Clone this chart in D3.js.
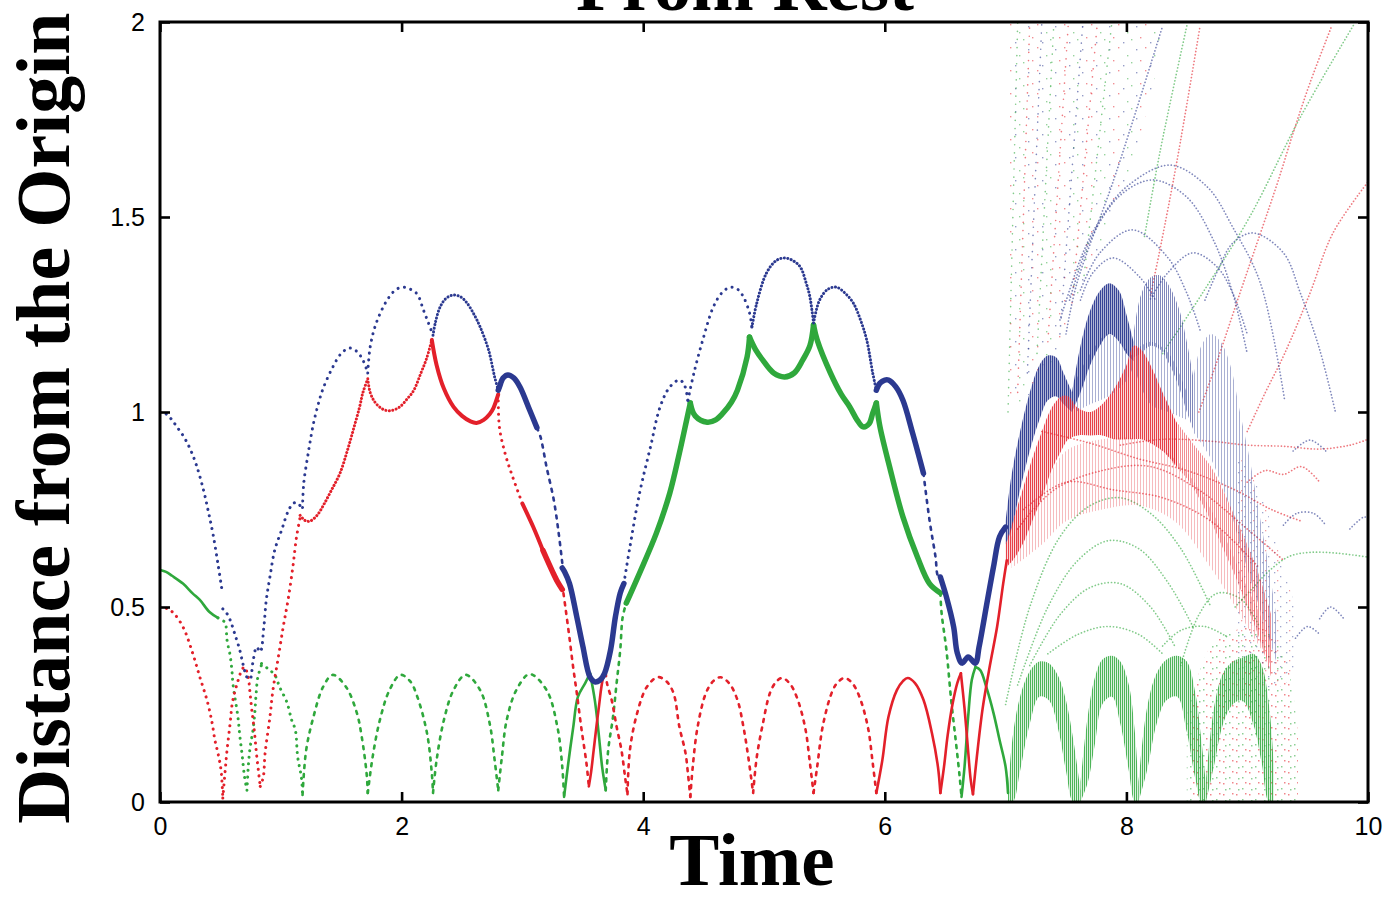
<!DOCTYPE html>
<html>
<head>
<meta charset="utf-8">
<script src="https://cdn.jsdelivr.net/npm/d3@7"></script>
<style>
  html, body { margin: 0; padding: 0; background: #fff; }
  svg { display: block; }
</style>
</head>
<body>
<svg id="chart" width="1386" height="898"></svg>
<script>
// ---------- axis ticks ----------
const xTicks = [0, 2, 4, 6, 8, 10];
const yTicks = [0, 0.5, 1, 1.5, 2];

// ---------- body tracks: [time, distance] ----------
const blueTrack = [
  [[0,1.0],[0.04,0.997],[0.09,0.983],[0.14,0.962],[0.2,0.935],[0.25,0.905],[0.3,0.865],[0.36,0.80],[0.4,0.745],[0.44,0.685],[0.48,0.61],[0.51,0.55]],
  [[0.52,0.495],[0.55,0.485],[0.58,0.467],[0.62,0.43],[0.66,0.39],[0.69,0.35],[0.72,0.32],[0.745,0.315],[0.77,0.36],[0.8,0.397],[0.83,0.385],[0.86,0.45],[0.88,0.518],[0.91,0.577],[0.95,0.646],[1.01,0.70],[1.06,0.745],[1.1,0.765],[1.13,0.768],[1.16,0.76],[1.18,0.755]],
  [[1.18,0.755],[1.19,0.817],[1.23,0.90],[1.27,0.97],[1.31,1.02],[1.35,1.06],[1.43,1.115],[1.5,1.15],[1.57,1.164],[1.63,1.155],[1.68,1.133],[1.72,1.10]],
  [[1.72,1.10],[1.74,1.167],[1.79,1.228],[1.88,1.287],[1.95,1.313],[2.01,1.32],[2.07,1.315],[2.13,1.302],[2.18,1.262],[2.22,1.23],[2.26,1.197]],
  [[2.26,1.197],[2.28,1.23],[2.32,1.27],[2.37,1.292],[2.43,1.30],[2.49,1.295],[2.54,1.28],[2.6,1.25],[2.65,1.218],[2.72,1.159],[2.77,1.09],[2.80,1.056]],
  [[2.80,1.056],[2.81,1.064],[2.84,1.087],[2.88,1.095],[2.93,1.087],[2.98,1.064],[3.06,1.005],[3.12,0.96]],
  [[3.12,0.96],[3.15,0.936],[3.2,0.859],[3.26,0.774],[3.3,0.69],[3.33,0.613]],
  [[3.33,0.60],[3.35,0.59],[3.39,0.56],[3.45,0.475],[3.5,0.40],[3.56,0.32],[3.6,0.308],[3.64,0.312],[3.68,0.33],[3.73,0.39],[3.77,0.475],[3.81,0.536],[3.84,0.56]],
  [[3.84,0.56],[3.89,0.654],[3.97,0.792],[4.06,0.91],[4.14,1.013],[4.22,1.064],[4.3,1.082],[4.34,1.07],[4.37,1.03]],
  [[4.37,1.03],[4.42,1.10],[4.5,1.192],[4.58,1.269],[4.65,1.305],[4.72,1.32],[4.78,1.315],[4.83,1.295],[4.88,1.254],[4.90,1.218]],
  [[4.90,1.218],[4.94,1.279],[5.02,1.356],[5.1,1.388],[5.17,1.395],[5.24,1.388],[5.3,1.372],[5.35,1.33],[5.38,1.295],[5.41,1.228]],
  [[5.41,1.228],[5.46,1.287],[5.53,1.315],[5.6,1.32],[5.67,1.305],[5.74,1.279],[5.8,1.235],[5.85,1.185],[5.9,1.10],[5.93,1.056]],
  [[5.93,1.056],[5.96,1.074],[6.0,1.082],[6.03,1.082],[6.09,1.065],[6.15,1.03],[6.23,0.946],[6.32,0.843]],
  [[6.32,0.843],[6.37,0.723],[6.42,0.628],[6.44,0.58],[6.46,0.577]],
  [[6.46,0.577],[6.51,0.526],[6.57,0.449],[6.6,0.382],[6.64,0.356],[6.69,0.372],[6.75,0.356],[6.78,0.397],[6.85,0.518],[6.9,0.603],[6.95,0.68],[7.0,0.705]]
];
const blueLook = ['dot','dot','dot','dot','fine','thick','dash','thick','dot','dot','fine','fine','thick','dash','thick'];

const redTrack = [
  [[0,0.5],[0.05,0.497],[0.11,0.485],[0.19,0.449],[0.27,0.382],[0.33,0.32],[0.39,0.26],[0.43,0.205],[0.455,0.158],[0.48,0.125],[0.505,0.082],[0.52,0.01]],
  [[0.52,0.01],[0.54,0.082],[0.555,0.133],[0.58,0.2],[0.6,0.256],[0.64,0.305],[0.68,0.34],[0.70,0.346],[0.73,0.32],[0.745,0.28],[0.76,0.236],[0.78,0.185],[0.80,0.12],[0.83,0.04]],
  [[0.83,0.04],[0.855,0.064],[0.87,0.125],[0.91,0.218],[0.935,0.287],[0.98,0.372],[1.02,0.449],[1.06,0.518],[1.10,0.603],[1.13,0.679],[1.16,0.73]],
  [[1.16,0.735],[1.2,0.722],[1.24,0.72],[1.3,0.735],[1.36,0.765],[1.42,0.80],[1.49,0.843],[1.55,0.90],[1.6,0.954],[1.65,1.01],[1.68,1.05],[1.72,1.085]],
  [[1.72,1.085],[1.74,1.05],[1.78,1.025],[1.84,1.008],[1.9,1.003],[1.98,1.012],[2.05,1.035],[2.1,1.055],[2.16,1.1],[2.21,1.14],[2.25,1.185]],
  [[2.25,1.185],[2.29,1.12],[2.35,1.06],[2.43,1.013],[2.5,0.99],[2.57,0.976],[2.62,0.972],[2.68,0.98],[2.73,0.995],[2.76,1.01],[2.80,1.045]],
  [[2.80,1.045],[2.81,0.96],[2.86,0.89],[2.92,0.833],[3.0,0.765]],
  [[3.0,0.765],[3.09,0.705],[3.17,0.645]],
  [[3.17,0.645],[3.25,0.59],[3.29,0.565],[3.33,0.545]],
  [[3.34,0.535],[3.36,0.49],[3.39,0.42],[3.42,0.346],[3.45,0.28],[3.49,0.185],[3.53,0.10],[3.55,0.04]],
  [[3.55,0.04],[3.57,0.08],[3.59,0.133],[3.63,0.236],[3.67,0.32],[3.69,0.33]],
  [[3.69,0.33],[3.70,0.305],[3.74,0.26],[3.78,0.193],[3.82,0.133],[3.85,0.064],[3.87,0.02]],
  [[3.87,0.02],[3.89,0.133],[3.95,0.228],[4.03,0.295],[4.12,0.32],[4.19,0.31],[4.25,0.28],[4.30,0.192],[4.35,0.126],[4.37,0.074],[4.39,0.013]],
  [[4.39,0.013],[4.41,0.09],[4.45,0.192],[4.52,0.28],[4.58,0.31],[4.64,0.32],[4.71,0.305],[4.78,0.262],[4.83,0.192],[4.87,0.115],[4.91,0.023]],
  [[4.91,0.023],[4.94,0.115],[4.99,0.2],[5.05,0.28],[5.1,0.308],[5.15,0.318],[5.21,0.305],[5.27,0.27],[5.34,0.192],[5.38,0.1],[5.41,0.023]],
  [[5.41,0.023],[5.44,0.09],[5.49,0.2],[5.57,0.287],[5.62,0.31],[5.67,0.318],[5.73,0.305],[5.79,0.27],[5.86,0.192],[5.9,0.1],[5.93,0.023]],
  [[5.93,0.023],[5.98,0.108],[6.03,0.218],[6.1,0.287],[6.15,0.31],[6.19,0.318],[6.25,0.305],[6.32,0.262],[6.39,0.177],[6.44,0.09],[6.46,0.023]],
  [[6.46,0.023],[6.49,0.09],[6.52,0.17],[6.56,0.25],[6.6,0.305],[6.63,0.33]],
  [[6.63,0.33],[6.66,0.24],[6.69,0.13],[6.71,0.06],[6.73,0.02]],
  [[6.73,0.02],[6.76,0.11],[6.81,0.24],[6.87,0.35],[6.93,0.45],[6.98,0.56],[7.01,0.62]]
];
const redLook = ['dot','dot','dot','fine','fine','bold','dot','bold','thick','dash','line','dash','dash','dash','dash','dash','line','line','line','line'];

const greenTrack = [
  [[0,0.595],[0.05,0.59],[0.1,0.58],[0.19,0.56],[0.27,0.535],[0.33,0.518],[0.41,0.487],[0.48,0.472]],
  [[0.48,0.472],[0.52,0.465],[0.54,0.46],[0.555,0.415],[0.58,0.377],[0.595,0.338],[0.605,0.3],[0.645,0.218],[0.66,0.172],[0.68,0.12],[0.70,0.064],[0.72,0.03]],
  [[0.72,0.03],[0.73,0.087],[0.745,0.138],[0.77,0.185],[0.785,0.23],[0.795,0.274],[0.81,0.32],[0.84,0.351]],
  [[0.84,0.355],[0.9,0.34],[0.95,0.326],[0.99,0.295],[1.05,0.256],[1.09,0.21],[1.12,0.185],[1.14,0.115],[1.17,0.064],[1.18,0.018]],
  [[1.18,0.018],[1.21,0.133],[1.27,0.218],[1.35,0.295],[1.43,0.326],[1.54,0.295],[1.63,0.228],[1.67,0.167],[1.71,0.074],[1.72,0.023]],
  [[1.72,0.023],[1.76,0.115],[1.82,0.21],[1.9,0.287],[1.99,0.326],[2.07,0.31],[2.13,0.27],[2.21,0.177],[2.25,0.074],[2.26,0.023]],
  [[2.26,0.023],[2.29,0.108],[2.35,0.21],[2.43,0.287],[2.53,0.326],[2.65,0.287],[2.73,0.2],[2.77,0.108],[2.80,0.03]],
  [[2.80,0.03],[2.83,0.115],[2.87,0.21],[2.95,0.287],[3.06,0.328],[3.2,0.287],[3.29,0.192],[3.33,0.09],[3.345,0.013]],
  [[3.345,0.013],[3.38,0.1],[3.42,0.19],[3.46,0.27],[3.52,0.305],[3.56,0.33]],
  [[3.56,0.33],[3.6,0.26],[3.63,0.18],[3.66,0.09],[3.69,0.03]],
  [[3.69,0.03],[3.71,0.133],[3.75,0.218],[3.78,0.305],[3.81,0.39],[3.83,0.474],[3.86,0.51]],
  [[3.86,0.51],[3.97,0.587],[4.11,0.69],[4.22,0.792],[4.3,0.895],[4.36,0.98],[4.39,1.023]],
  [[4.39,1.023],[4.43,0.99],[4.53,0.974],[4.6,0.98],[4.66,0.997],[4.73,1.025],[4.78,1.056],[4.86,1.141],[4.88,1.192]],
  [[4.88,1.192],[4.93,1.16],[4.99,1.133],[5.08,1.10],[5.17,1.09],[5.25,1.10],[5.32,1.133],[5.38,1.17],[5.41,1.223]],
  [[5.41,1.223],[5.44,1.185],[5.55,1.10],[5.64,1.045],[5.71,1.013],[5.77,0.98],[5.82,0.962],[5.87,0.97],[5.9,0.997],[5.93,1.023]],
  [[5.93,1.023],[5.96,0.962],[6.04,0.859],[6.15,0.731],[6.27,0.628],[6.37,0.56],[6.46,0.536]],
  [[6.46,0.536],[6.47,0.485],[6.51,0.39],[6.55,0.26],[6.59,0.15],[6.62,0.064],[6.635,0.013]],
  [[6.635,0.013],[6.66,0.09],[6.69,0.218],[6.72,0.313],[6.75,0.346]],
  [[6.75,0.346],[6.79,0.338],[6.84,0.295],[6.9,0.228],[6.95,0.159],[7.0,0.09],[7.02,0.023]]
];
const greenLook = ['line','dot','dot','dot','dash','dash','dash','dash','line','line','dash','thick','thick','thick','thick','thick','dash','line','line'];

// ---------- late, spread-out bundles: [time, low, high] ----------
const greenDomes = [
  [[7.02,0,0.03],[7.06,0,0.17],[7.12,0.08,0.27],[7.2,0.2,0.335],[7.28,0.27,0.36],[7.36,0.26,0.355],[7.44,0.18,0.32],[7.5,0.08,0.26],[7.56,0,0.16],[7.62,0,0.03]],
  [[7.62,0,0.05],[7.68,0.05,0.22],[7.74,0.15,0.32],[7.8,0.25,0.365],[7.88,0.27,0.375],[7.95,0.2,0.36],[8.02,0.08,0.3],[8.07,0,0.18],[8.1,0,0.04]],
  [[8.1,0,0.05],[8.17,0.08,0.24],[8.25,0.2,0.33],[8.33,0.26,0.365],[8.42,0.27,0.375],[8.5,0.18,0.36],[8.57,0.06,0.28],[8.62,0,0.16],[8.66,0,0.04]],
  [[8.66,0,0.06],[8.73,0.1,0.25],[8.8,0.2,0.33],[8.88,0.25,0.36],[8.96,0.26,0.37],[9.05,0.2,0.38],[9.12,0.1,0.35],[9.18,0,0.25],[9.22,0,0.1]]
];
const blueDomes = [
  [[7.0,0.66,0.72],[7.05,0.70,0.84],[7.12,0.80,0.95],[7.2,0.90,1.05],[7.28,0.98,1.12],[7.35,1.03,1.145],[7.42,1.04,1.14],[7.48,1.02,1.10],[7.55,1.0,1.05]],
  [[7.55,1.0,1.05],[7.62,1.05,1.17],[7.7,1.12,1.26],[7.78,1.17,1.31],[7.86,1.2,1.33],[7.94,1.18,1.31],[8.0,1.15,1.25],[8.06,1.13,1.18]],
  [[8.06,1.14,1.2],[8.12,1.15,1.3],[8.2,1.17,1.345],[8.28,1.16,1.35],[8.36,1.12,1.32],[8.44,1.06,1.26],[8.5,1.0,1.18],[8.56,0.95,1.08]],
  [[8.55,0.95,1.08],[8.62,0.92,1.17],[8.7,0.88,1.2],[8.78,0.82,1.18],[8.86,0.75,1.12],[8.94,0.66,1.0],[9.02,0.58,0.88],[9.1,0.5,0.74],[9.18,0.42,0.6],[9.24,0.36,0.48]]
];
const blueDomesFaint = [
  [[7.58,1.0,1.08],[7.7,1.02,1.15],[7.85,1.04,1.2],[8.0,1.08,1.16],[8.06,1.12,1.14]],
  [[8.08,1.1,1.16],[8.2,1.02,1.18],[8.35,1.0,1.15],[8.5,0.98,1.05]]
];
const redCore = [
  [[7.0,0.60,0.66],[7.06,0.62,0.72],[7.14,0.66,0.80],[7.22,0.72,0.88],[7.3,0.78,0.95],[7.38,0.85,1.01],[7.46,0.9,1.04],[7.52,0.93,1.04],[7.6,0.94,1.01],[7.7,0.94,1.0],[7.8,0.94,1.02],[7.9,0.93,1.06],[8.0,0.93,1.12],[8.06,0.93,1.17],[8.12,0.93,1.16],[8.2,0.92,1.12],[8.3,0.9,1.05],[8.42,0.86,0.97]]
];
const redTail = [
  [[8.38,0.87,0.99],[8.5,0.83,0.94],[8.6,0.78,0.9],[8.7,0.72,0.86],[8.8,0.65,0.8],[8.9,0.58,0.73],[9.0,0.5,0.66],[9.1,0.42,0.58],[9.2,0.32,0.48]]
];
const redFan = [
  [[7.05,0.6,0.68],[7.3,0.66,0.8],[7.5,0.72,0.9],[7.8,0.75,0.93],[8.1,0.76,0.93],[8.4,0.72,0.88],[8.7,0.6,0.75],[9.0,0.45,0.55],[9.2,0.35,0.42]]
];

// ---------- scattered debris regions: [time, low, high] ----------
const debrisHigh = [[7.02,1.0,2.0],[7.3,1.08,2.0],[7.6,1.3,2.0],[7.9,1.5,2.0],[8.15,1.75,2.0],[8.3,1.95,2.0]];
const debrisLow = [[8.5,0,0.22],[8.7,0,0.4],[8.9,0,0.44],[9.1,0,0.45],[9.3,0,0.38],[9.42,0,0.18]];
const debrisBlue = [[8.9,0.4,0.9],[9.1,0.3,0.8],[9.3,0.3,0.6],[9.4,0.35,0.5]];

// ---------- single escaping / looping paths ----------
const blueStrays = [
  [[7.45,1.236],[7.64,1.408],[7.78,1.492],[8.0,1.577],[8.36,1.633],[8.67,1.577],[8.88,1.474],[9.11,1.33],[9.31,1.03]],
  [[7.53,1.287],[7.7,1.44],[7.95,1.556],[8.22,1.595],[8.5,1.551],[8.72,1.441],[8.88,1.305],[9.0,1.15]],
  [[7.62,1.313],[7.78,1.408],[8.05,1.467],[8.34,1.397],[8.5,1.305],[8.61,1.21]],
  [[7.62,1.287],[7.72,1.356],[7.89,1.395],[8.11,1.346],[8.24,1.287]],
  [[8.2,1.29],[8.34,1.356],[8.55,1.408],[8.75,1.372],[8.88,1.305],[9.0,1.2]],
  [[8.65,1.287],[8.77,1.372],[8.88,1.433],[9.05,1.459],[9.3,1.408],[9.44,1.305],[9.6,1.16],[9.73,1.0]],
  [[7.5,1.2],[7.59,1.33],[7.9,1.6],[8.3,1.99]],
  [[9.38,0.9],[9.52,0.928],[9.65,0.9]],
  [[9.3,0.71],[9.41,0.74],[9.55,0.74],[9.65,0.71]],
  [[9.85,0.7],[9.96,0.73],[10.0,0.73]],
  [[9.6,0.47],[9.69,0.5],[9.8,0.47]],
  [[9.4,0.42],[9.5,0.45],[9.6,0.43]]
];
const redStrays = [
  [[8.6,1.0],[8.75,1.13],[8.94,1.305],[9.11,1.459],[9.25,1.587],[9.38,1.715],[9.52,1.844],[9.70,1.99]],
  [[9.0,0.95],[9.15,1.05],[9.31,1.15],[9.52,1.305],[9.71,1.459],[10.0,1.59]],
  [[8.2,1.3],[8.28,1.42],[8.42,1.646],[8.61,1.99]],
  [[7.95,0.915],[8.3,0.93],[8.7,0.925],[9.0,0.915],[9.3,0.912],[9.6,0.905],[9.85,0.915],[10.0,0.93]],
  [[7.3,0.95],[7.7,0.92],[8.1,0.88],[8.5,0.85],[8.9,0.8],[9.2,0.75],[9.45,0.72]],
  [[7.1,0.7],[7.4,0.8],[7.8,0.85],[8.2,0.86],[8.6,0.8],[9.0,0.7],[9.3,0.62]],
  [[7.15,0.75],[7.5,0.82],[7.9,0.8],[8.3,0.78],[8.7,0.72],[9.1,0.6]],
  [[9.0,0.82],[9.15,0.85],[9.3,0.84],[9.45,0.86],[9.6,0.82]]
];
const greenStrays = [
  [[8.3,1.15],[8.63,1.305],[9.02,1.5],[9.44,1.756],[9.89,1.997]],
  [[8.15,1.45],[8.28,1.67],[8.5,1.99]],
  [[8.9,0.5],[9.05,0.55],[9.19,0.595],[9.35,0.63],[9.52,0.64],[9.74,0.638],[10.0,0.628]],
  [[7.0,0.25],[7.2,0.5],[7.45,0.68],[7.7,0.76],[7.95,0.78],[8.2,0.74],[8.45,0.65],[8.7,0.5]],
  [[7.1,0.3],[7.35,0.5],[7.6,0.62],[7.85,0.67],[8.1,0.65],[8.35,0.56],[8.55,0.45]],
  [[7.2,0.35],[7.45,0.48],[7.7,0.55],[7.95,0.56],[8.2,0.5],[8.4,0.4]],
  [[7.35,0.38],[7.6,0.43],[7.85,0.45],[8.1,0.43],[8.3,0.38]],
  [[8.45,0.35],[8.6,0.48],[8.75,0.535],[8.95,0.52],[9.1,0.45]],
  [[8.3,0.4],[8.45,0.44],[8.65,0.45],[8.85,0.42]]
];
// steep outbound streaks through the upper debris field
const streaks = [
  [[7.02,1.0],[7.1,2.0]], [[7.1,1.05],[7.2,2.0]], [[7.18,1.1],[7.3,2.0]], [[7.26,1.15],[7.4,2.0]],
  [[7.35,1.18],[7.52,2.0]], [[7.45,1.2],[7.64,2.0]], [[7.55,1.28],[7.76,2.0]], [[7.65,1.35],[7.88,2.0]]
];
const streakColor = ['green','red','blue','green','red','blue','red','green'];

// ---------- drawing ----------
const svg = d3.select('#chart');
const plot = { left: 160, right: 1368, top: 22, bottom: 802 };
const x = d3.scaleLinear().domain([0, 10]).range([plot.left, plot.right]);
const y = d3.scaleLinear().domain([0, 2]).range([plot.bottom, plot.top]);
const COLOR = { blue: '#2b3990', red: '#e3202a', green: '#2fa83c' };

const LOOK = {
  dot:   { w: 3.0, dash: '0.1 6.5' },
  fine:  { w: 3.0, dash: '0.1 3.4' },
  dash:  { w: 2.6, dash: '3 6' },
  line:  { w: 2.6, dash: null },
  bold:  { w: 4.0, dash: null },
  thick: { w: 5.5, dash: null }
};

const defs = svg.append('defs');
defs.append('clipPath').attr('id', 'plotClip').append('rect')
  .attr('x', plot.left).attr('y', plot.top)
  .attr('width', plot.right - plot.left).attr('height', plot.bottom - plot.top);

// vertical hatch used for the dense bundles of sampled orbits
function hatch(id, color, period, bar, opacity) {
  const p = defs.append('pattern').attr('id', id)
    .attr('patternUnits', 'userSpaceOnUse').attr('width', period).attr('height', 6);
  p.append('rect').attr('x', 0).attr('y', 0).attr('width', bar).attr('height', 6)
    .attr('fill', color).attr('fill-opacity', opacity);
}
hatch('hb-dense', COLOR.blue, 2, 1.4, 0.95);
hatch('hb-mid', COLOR.blue, 2, 1.0, 0.6);
hatch('hb-faint', COLOR.blue, 3, 1.0, 0.4);
hatch('hr-dense', COLOR.red, 2, 1.2, 0.85);
hatch('hr-mid', COLOR.red, 2, 1.0, 0.5);
hatch('hr-faint', COLOR.red, 3, 1.0, 0.3);
hatch('hg-dense', COLOR.green, 2, 1.2, 0.85);

// speckle tiles for the scattered debris
function speckle(id, w, h, dots, size, opacity) {
  const p = defs.append('pattern').attr('id', id)
    .attr('patternUnits', 'userSpaceOnUse').attr('width', w).attr('height', h);
  dots.forEach(([dx, dy, c]) => p.append('rect')
    .attr('x', dx).attr('y', dy).attr('width', size).attr('height', size)
    .attr('fill', COLOR[c]).attr('fill-opacity', opacity));
}
speckle('sp-mix', 27, 23, [[2,3,'blue'],[11,1,'red'],[20,9,'green'],[6,14,'red'],[16,19,'blue'],[24,16,'green']], 1.4, 0.5);
speckle('sp-rg', 13, 11, [[1,2,'red'],[7,7,'green'],[10,1,'red'],[3,8,'green']], 1.5, 0.55);
speckle('sp-b', 12, 10, [[2,2,'blue'],[8,6,'blue'],[5,0,'red']], 1.3, 0.45);

const line = d3.line().x(d => x(d[0])).y(d => y(d[1])).curve(d3.curveCatmullRom.alpha(0.5));
const band = d3.area().x(d => x(d[0])).y0(d => y(d[1])).y1(d => y(d[2])).curve(d3.curveCatmullRom.alpha(0.5));
const straight = d3.line().x(d => x(d[0])).y(d => y(d[1]));

const g = svg.append('g').attr('clip-path', 'url(#plotClip)');

// debris fields
g.append('path').datum(debrisHigh).attr('d', band).attr('fill', 'url(#sp-mix)');
g.append('path').datum(debrisLow).attr('d', band).attr('fill', 'url(#sp-rg)');
g.append('path').datum(debrisBlue).attr('d', band).attr('fill', 'url(#sp-b)');

g.selectAll('.streak').data(streaks).join('path').attr('class', 'streak')
  .attr('d', straight).attr('fill', 'none')
  .attr('stroke', (d, i) => COLOR[streakColor[i]]).attr('stroke-opacity', 0.6)
  .attr('stroke-width', 1.6).attr('stroke-linecap', 'round').attr('stroke-dasharray', '0.1 8');

// faint single orbits
function strays(data, color, op) {
  g.append('g').selectAll('path').data(data).join('path')
    .attr('d', line).attr('fill', 'none').attr('stroke', color).attr('stroke-opacity', op)
    .attr('stroke-width', 1.7).attr('stroke-linecap', 'round').attr('stroke-dasharray', '0.1 3.2');
}
strays(greenStrays, COLOR.green, 0.6);
strays(redStrays, COLOR.red, 0.6);
strays(blueStrays, COLOR.blue, 0.6);

// bundles
function bundles(data, fill) {
  g.append('g').selectAll('path').data(data).join('path').attr('d', band).attr('fill', fill);
}
bundles(redFan, 'url(#hr-faint)');
bundles(greenDomes, 'url(#hg-dense)');
bundles(blueDomesFaint, 'url(#hb-faint)');
bundles([blueDomes[3]], 'url(#hb-faint)');
bundles([blueDomes[2]], 'url(#hb-mid)');
bundles([blueDomes[0], blueDomes[1]], 'url(#hb-dense)');
bundles(redTail, 'url(#hr-mid)');
bundles(redCore, 'url(#hr-dense)');

// main tracks of the three bodies
function track(data, looks, color) {
  g.append('g').selectAll('path').data(data).join('path')
    .attr('d', line).attr('fill', 'none').attr('stroke', color)
    .attr('stroke-width', (d, i) => LOOK[looks[i]].w)
    .attr('stroke-linecap', 'round').attr('stroke-linejoin', 'round')
    .attr('stroke-dasharray', (d, i) => LOOK[looks[i]].dash);
}
track(greenTrack, greenLook, COLOR.green);
track(redTrack, redLook, COLOR.red);
track(blueTrack, blueLook, COLOR.blue);

// ---------- axes and frame ----------
const tickFont = '"Liberation Sans", Arial, sans-serif';
function styleAxis(sel) {
  sel.select('.domain').remove();
  sel.selectAll('.tick line').attr('stroke', '#000').attr('stroke-width', 2.6);
  sel.selectAll('.tick text').attr('font-family', tickFont).attr('font-size', 25).attr('fill', '#000');
}
svg.append('g').attr('transform', `translate(0,${plot.bottom})`)
  .call(d3.axisBottom(x).tickValues(xTicks).tickSize(-10).tickPadding(15).tickFormat(d3.format('d')))
  .call(styleAxis);
svg.append('g').attr('transform', `translate(0,${plot.top})`)
  .call(d3.axisTop(x).tickValues(xTicks).tickSize(-10).tickFormat(''))
  .call(styleAxis);
svg.append('g').attr('transform', `translate(${plot.left},0)`)
  .call(d3.axisLeft(y).tickValues(yTicks).tickSize(-10).tickPadding(15).tickFormat(d => String(d)))
  .call(styleAxis);
svg.append('g').attr('transform', `translate(${plot.right},0)`)
  .call(d3.axisRight(y).tickValues(yTicks).tickSize(-10).tickFormat(''))
  .call(styleAxis);

svg.append('rect')
  .attr('x', plot.left).attr('y', plot.top)
  .attr('width', plot.right - plot.left).attr('height', plot.bottom - plot.top)
  .attr('fill', 'none').attr('stroke', '#000').attr('stroke-width', 3);

// ---------- titles ----------
const serif = '"Liberation Serif", "Times New Roman", serif';
svg.append('text').attr('x', 745).attr('y', 10).attr('text-anchor', 'middle')
  .attr('font-family', serif).attr('font-weight', 'bold').attr('font-size', 75)
  .text('From Rest');
svg.append('text').attr('x', 752).attr('y', 885).attr('text-anchor', 'middle')
  .attr('font-family', serif).attr('font-weight', 'bold').attr('font-size', 75)
  .text('Time');
svg.append('text').attr('transform', 'translate(69,418) rotate(-90)').attr('text-anchor', 'middle')
  .attr('font-family', serif).attr('font-weight', 'bold').attr('font-size', 76)
  .text('Distance from the Origin');
</script>
</body>
</html>
